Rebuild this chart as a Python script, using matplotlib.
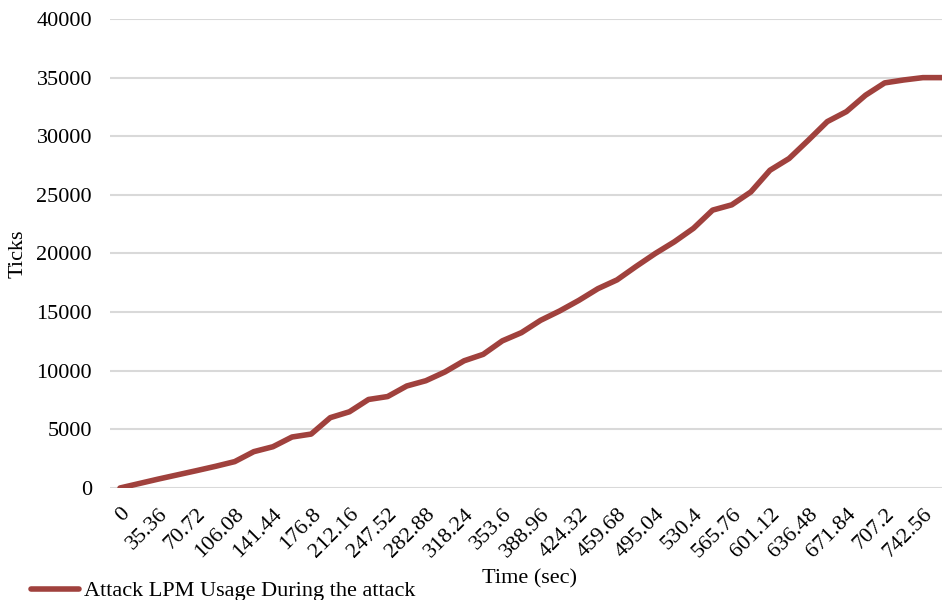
import matplotlib
matplotlib.use("Agg")
import matplotlib.pyplot as plt
import numpy as np

plt.rcParams['font.family'] = ['Liberation Serif', 'DejaVu Serif']

# Data
time_step = 17.68
ticks_values = [0, 380, 760, 1120, 1480, 1850, 2250, 3100, 3520, 4350,
                4600, 6000, 6500, 7550, 7800, 8700, 9150, 9900, 10850, 11400,
                12550, 13250, 14300, 15100, 16000, 17000, 17750, 18900, 20000, 21000,
                22150, 23700, 24150, 25250, 27100, 28100, 29650, 31250, 32100, 33500,
                34550, 34800, 35000, 35000]
time_sec = [round(i * time_step, 2) for i in range(len(ticks_values))]
xtick_labels = ["0", "35.36", "70.72", "106.08", "141.44", "176.8", "212.16", "247.52",
                "282.88", "318.24", "353.6", "388.96", "424.32", "459.68", "495.04",
                "530.4", "565.76", "601.12", "636.48", "671.84", "707.2", "742.56"]
xtick_pos = [float(s) for s in xtick_labels]
yticks = [0, 5000, 10000, 15000, 20000, 25000, 30000, 35000, 40000]

W, H = 942, 600
fig = plt.figure(figsize=(W / 100, H / 100), dpi=100)
left, right, bottom, top = 110, 942, 488, 19
ax = fig.add_axes([left / W, 1 - bottom / H, (right - left) / W, (bottom - top) / H])

line_color = '#A0413D'
ax.plot(time_sec, ticks_values, color=line_color, lw=4.0, solid_capstyle='round',
        solid_joinstyle='round', label='Attack LPM Usage During the attack', zorder=3)

ax.set_xlim(-9.25, time_sec[-1])
ax.set_ylim(0, 40000)
ax.set_yticks(yticks)
ax.set_yticklabels([str(v) for v in yticks])
ax.set_xticks(xtick_pos)
ax.set_xticklabels(xtick_labels, rotation=45, ha='right', va='top', rotation_mode='anchor')

ax.grid(axis='y', color='#d9d9d9', lw=1.5, zorder=0)
ax.grid(axis='x', visible=False)
for s in ax.spines.values():
    s.set_visible(False)
ax.tick_params(axis='both', length=0, labelsize=16, colors='black')
ax.tick_params(axis='y', pad=13)
ax.tick_params(axis='x', pad=12)

fig.text(18 / W, 1 - 254 / H, 'Ticks', ha='center', va='center', rotation=90, fontsize=16)
fig.text(530 / W, 1 - 579 / H, 'Time (sec)', ha='center', va='center', fontsize=16)

leg = fig.legend(loc='lower left', bbox_to_anchor=(22 / W, -0.017), frameon=False,
                 fontsize=16, handlelength=2.15, handletextpad=0.25, borderaxespad=0)

fig.savefig('out.png', dpi=100)
